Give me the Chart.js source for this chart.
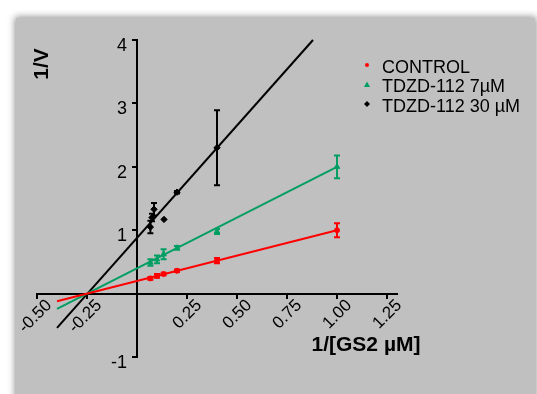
<!DOCTYPE html>
<html>
<head>
<meta charset="utf-8">
<script src="https://cdn.jsdelivr.net/npm/chart.js@4/dist/chart.umd.min.js"></script>
<style>
  html, body { margin: 0; padding: 0; background: #fff; }
  #panel { position: absolute; left: 16px; top: 18px; width: 519px; height: 400px;
           background: #c0c0c0; box-shadow: 0 0 7px 1px rgba(0,0,0,0.45); }
  #wrap { position: absolute; left: 0; top: 0; width: 537px; height: 394px; }
</style>
</head>
<body>
<div id="panel"></div>
<div id="wrap"><canvas id="chart" width="537" height="394"></canvas></div>
<script>
// measured points (1/[S], 1/V) and error bars
const controlX = [0.067, 0.1, 0.133, 0.2, 0.4, 1.0];
const controlY = [0.24, 0.28, 0.31, 0.36, 0.52, 1.0];
const controlErr = [0.02, 0.03, 0.02, 0.02, 0.04, 0.11];

const tdzd7X = [0.067, 0.1, 0.133, 0.2, 0.4, 1.0];
const tdzd7Y = [0.49, 0.54, 0.62, 0.72, 0.98, 2.0];
const tdzd7Err = [0.05, 0.06, 0.08, 0.03, 0.04, 0.18];

const tdzd30X = [0.067, 0.075, 0.085, 0.135, 0.2, 0.4];
const tdzd30Y = [1.05, 1.2, 1.33, 1.17, 1.6, 2.3];
const tdzd30Err = [0.1, 0.06, 0.1, 0, 0.02, 0.59];

// fitted lines (endpoints)
const controlFitX = [-0.4, 1.0];
const controlFitY = [-0.12, 1.0];
const tdzd7FitX = [-0.4, 1.0];
const tdzd7FitY = [-0.24, 2.0];
const tdzd30FitX = [-0.4, 0.88];
const tdzd30FitY = [-0.54, 4.0];

const seriesNames = ['CONTROL', 'TDZD-112 7µM', 'TDZD-112 30 µM'];
const seriesColors = ['#ff0000', '#009e63', '#000000'];
const seriesStyles = ['circle', 'triangle', 'rectRot'];

const xTitle = '1/[GS2 µM]';
const yTitle = '1/V';

const FONT = "'Liberation Sans', Arial, sans-serif";

function pts(xs, ys) {
    return xs.map((x, i) => ({ x: x, y: ys[i] }));
}

const pointSets = [
    { x: controlX, y: controlY, err: controlErr },
    { x: tdzd7X, y: tdzd7Y, err: tdzd7Err },
    { x: tdzd30X, y: tdzd30Y, err: tdzd30Err },
];
const fitSets = [
    { x: controlFitX, y: controlFitY },
    { x: tdzd7FitX, y: tdzd7FitY },
    { x: tdzd30FitX, y: tdzd30FitY },
];

const datasets = [];
fitSets.forEach((f, i) => {
    datasets.push({
        label: seriesNames[i] + ' fit',
        data: pts(f.x, f.y),
        showLine: true,
        borderColor: seriesColors[i],
        borderWidth: 2,
        pointRadius: 0,
        clip: false,
    });
});
pointSets.forEach((s, i) => {
    datasets.push({
        label: seriesNames[i],
        data: pts(s.x, s.y),
        errors: s.err,
        showLine: false,
        pointStyle: seriesStyles[i],
        pointRadius: i === 0 ? 2.5 : 3.2,
        backgroundColor: seriesColors[i],
        borderColor: seriesColors[i],
        borderWidth: 1,
        clip: false,
    });
});

// vertical error bars with caps
const errorBars = {
    id: 'errorBars',
    afterDatasetsDraw(chart) {
        const ctx = chart.ctx;
        const xs = chart.scales.x, ys = chart.scales.y;
        ctx.save();
        chart.data.datasets.forEach(ds => {
            if (!ds.errors) return;
            ctx.strokeStyle = ds.borderColor;
            ctx.lineWidth = 2;
            ds.data.forEach((p, i) => {
                const e = ds.errors[i];
                if (!e) return;
                const px = xs.getPixelForValue(p.x);
                const top = ys.getPixelForValue(p.y + e);
                const bot = ys.getPixelForValue(p.y - e);
                ctx.beginPath();
                ctx.moveTo(px, top); ctx.lineTo(px, bot);
                ctx.moveTo(px - 3, top); ctx.lineTo(px + 3, top);
                ctx.moveTo(px - 3, bot); ctx.lineTo(px + 3, bot);
                ctx.stroke();
            });
        });
        ctx.restore();
    }
};

function marker(ctx, style, x, y, r, color) {
    ctx.fillStyle = color;
    ctx.beginPath();
    if (style === 'circle') {
        ctx.arc(x, y, r, 0, Math.PI * 2);
    } else if (style === 'triangle') {
        ctx.moveTo(x, y - r);
        ctx.lineTo(x + r, y + r * 0.8);
        ctx.lineTo(x - r, y + r * 0.8);
        ctx.closePath();
    } else {
        ctx.moveTo(x, y - r);
        ctx.lineTo(x + r, y);
        ctx.lineTo(x, y + r);
        ctx.lineTo(x - r, y);
        ctx.closePath();
    }
    ctx.fill();
}

// legend and axis titles
const labels = {
    id: 'labels',
    afterDraw(chart) {
        const ctx = chart.ctx;
        ctx.save();
        ctx.fillStyle = '#000';
        ctx.textBaseline = 'middle';
        ctx.font = '18px ' + FONT;
        ctx.textAlign = 'left';
        seriesNames.forEach((name, i) => {
            const y = 68 + i * 19.5;
            marker(ctx, seriesStyles[i], 367, y - 3, i === 0 ? 2 : 3, seriesColors[i]);
            ctx.fillStyle = '#000';
            ctx.fillText(name, 382, y);
        });
        ctx.font = 'bold 21px ' + FONT;
        ctx.textAlign = 'center';
        ctx.fillText(xTitle, 366, 345);
        ctx.translate(42, 64);
        ctx.rotate(-Math.PI / 2);
        ctx.fillText(yTitle, 0, 0);
        ctx.restore();
    }
};

function noSpace(scale) {
    if (scale.isHorizontal()) scale.height = 0; else scale.width = 0;
    scale.paddingLeft = scale.paddingRight = scale.paddingTop = scale.paddingBottom = 0;
}

new Chart(document.getElementById('chart'), {
    type: 'scatter',
    data: { datasets: datasets },
    options: {
        responsive: false,
        animation: false,
        devicePixelRatio: 1,
        layout: { padding: { left: 37, right: 140, top: 40, bottom: 37 } },
        plugins: { legend: { display: false }, tooltip: { enabled: false } },
        scales: {
            x: {
                type: 'linear',
                min: -0.5,
                max: 1.3,
                position: { y: 0 },
                afterFit: noSpace,
                border: { color: '#000', width: 2 },
                grid: { drawOnChartArea: false, drawTicks: true, tickLength: 4, color: '#000', lineWidth: 2 },
                ticks: {
                    stepSize: 0.25,
                    includeBounds: false,
                    autoSkip: false,
                    minRotation: 45,
                    maxRotation: 45,
                    padding: -2,
                    labelOffset: 12,
                    color: '#000',
                    font: { size: 17, family: FONT },
                    callback: v => Math.abs(v) < 1e-9 ? '' : v.toFixed(2),
                },
            },
            y: {
                type: 'linear',
                min: -1,
                max: 4,
                position: { x: 0 },
                afterFit: noSpace,
                border: { color: '#000', width: 2 },
                grid: { drawOnChartArea: false, drawTicks: true, tickLength: 4, color: '#000', lineWidth: 2 },
                ticks: {
                    stepSize: 1,
                    labelOffset: 6,
                    color: '#000',
                    font: { size: 18, family: FONT },
                    // trailing spaces keep the label clear of the axis line
                    callback: v => v === 0 ? '' : String(v) + '  ',
                },
            },
        },
    },
    plugins: [errorBars, labels],
});
</script>
</body>
</html>
